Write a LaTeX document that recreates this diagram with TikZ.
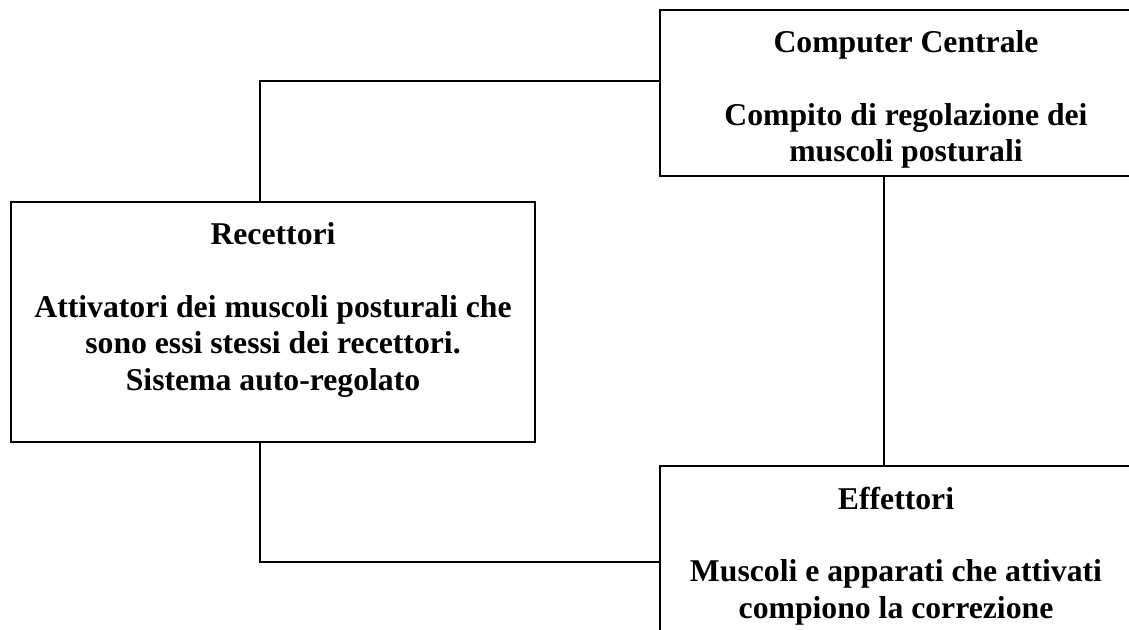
\documentclass[tikz,border=0pt]{standalone}
\usepackage{fontspec}
\setmainfont{Liberation Serif}
\usepackage{tikz}
\usetikzlibrary{positioning}

\begin{document}
\begin{tikzpicture}[x=0.5pt,y=-0.5pt,line width=1pt,
  box/.style={draw,inner sep=0pt,anchor=north west},
  txt/.style={align=center,inner sep=0pt,font=\fontsize{15.85pt}{18.15pt}\selectfont\bfseries}]
\useasboundingbox (0,0) rectangle (1129,630);
\clip (0,0) rectangle (1129,630);

% Boxes
\node[box,minimum width=246pt,minimum height=83pt] (cc) at (659,9) {};
\node[box,minimum width=262pt,minimum height=120pt] (rec) at (10,201) {};
\node[box,minimum width=236pt,minimum height=90pt] (eff) at (659,465) {};

% Texts
\node[txt,below=10.5pt of cc.north] (cctxt) {Computer Centrale\\[18.15pt]Compito di regolazione dei\\muscoli posturali};
\node[txt,below=10.5pt of rec.north] (rectxt) {Recettori\\[18.15pt]Attivatori dei muscoli posturali che\\sono essi stessi dei recettori.\\Sistema auto-regolato};
\node[txt,below=10.5pt of eff.north] (efftxt) {Effettori\\[18.15pt]Muscoli e apparati che attivati\\compiono la correzione};

% Connectors
\coordinate (k1) at (260,81);
\coordinate (k2) at (884,0);
\coordinate (k3) at (260,562);
\draw (rec.north -| k1) -- (k1) -- (k1 -| cc.west);
\draw (cc.south -| k2) -- (eff.north -| k2);
\draw (rec.south -| k3) -- (k3) -- (k3 -| eff.west);
\end{tikzpicture}
\end{document}
